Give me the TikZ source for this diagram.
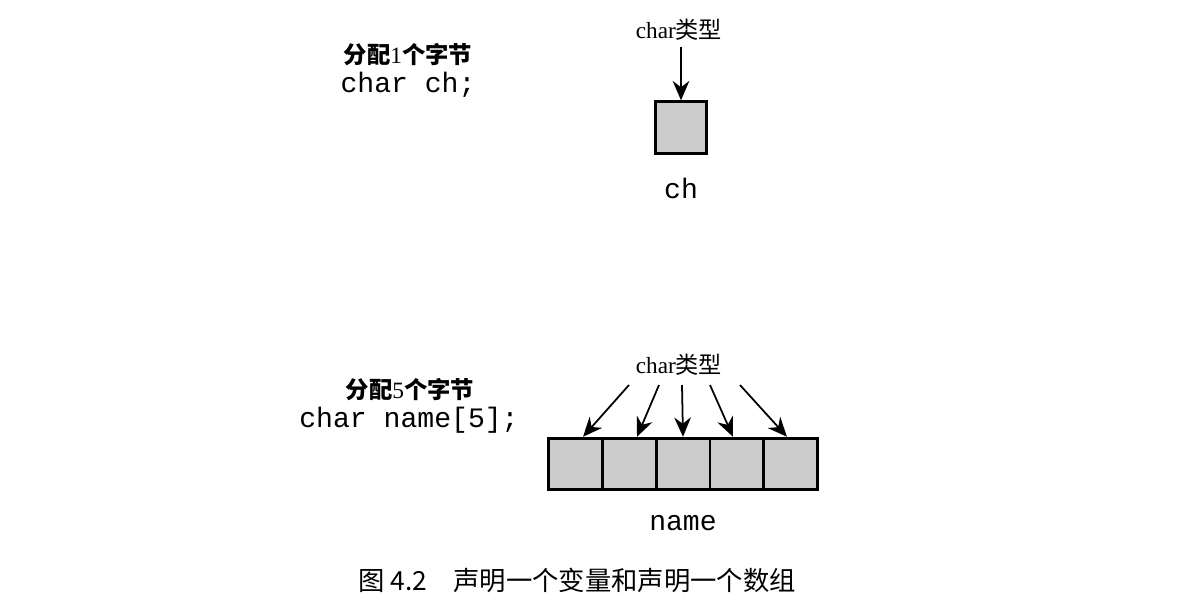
\documentclass[tikz,border=0pt]{standalone}
\usepackage{fontspec}
\setmainfont{Liberation Serif}
\setmonofont{Liberation Mono}
\newfontfamily\cjk{Noto Sans CJK SC}
\usetikzlibrary{matrix,arrows.meta}

\begin{document}
\begin{tikzpicture}[x=0.02cm,y=-0.02cm,
    cell/.style={draw, line width=1.7pt, fill=black!20, minimum size=1.03cm, inner sep=0pt},
    array/.style={matrix of nodes, nodes={cell, minimum width=1.08cm}, column sep=-1.7pt, row sep=0mm, nodes in empty cells},
    decl/.style={font=\cjk\bfseries\fontsize{13.3}{16}\selectfont},
    code/.style={font=\ttfamily\fontsize{16}{19}\selectfont},
    type/.style={font=\fontsize{13.2}{16}\selectfont},
    ptr/.style={-{Stealth[length=11pt,width=9.5pt]}, line width=1pt}]

    \useasboundingbox (0,0) rectangle (1191,606);

    % one char
    \node[decl] (alloc1) at (408,55) {分配{\rmfamily\mdseries 1}个字节};
    \node[code] (decl1) at (408,85) {char ch;};
    \node[type] (type1) at (679,30) {char{\cjk 类型}};
    \node[cell] (ch) at (681,127.5) {};
    \node[code] (chname) at (681,188) {ch};
    \coordinate (t1) at (681,47);
    \draw[ptr] (t1) -- (ch.north);

    % array of five
    \node[decl] (alloc5) at (410,390) {分配{\rmfamily\mdseries 5}个字节};
    \node[code] (decl5) at (409,420) {char name[5];};
    \node[type] (type5) at (679,365) {char{\cjk 类型}};

    \matrix[array] (arr) at (683,464) {
    & & & & \\};

    \node[code] (arrname) at (683,523) {name};

    \coordinate (s1) at (629,385);
    \coordinate (s2) at (659,385);
    \coordinate (s3) at (682,385);
    \coordinate (s4) at (710,385);
    \coordinate (s5) at (740,385);
    \draw[ptr] (s1) -- ([xshift=0.16cm]arr-1-1.north);
    \draw[ptr] (s2) -- ([xshift=0.16cm]arr-1-2.north);
    \draw[ptr] (s3) -- (arr-1-3.north);
    \draw[ptr] (s4) -- ([xshift=-0.08cm]arr-1-4.north);
    \draw[ptr] (s5) -- ([xshift=-0.08cm]arr-1-5.north);
    %
    \node[font=\cjk\fontsize{15}{18}\selectfont, anchor=west] (caption) at (352,580) {图 4.2\hspace{1em}声明一个变量和声明一个数组};
\end{tikzpicture}
\end{document}
